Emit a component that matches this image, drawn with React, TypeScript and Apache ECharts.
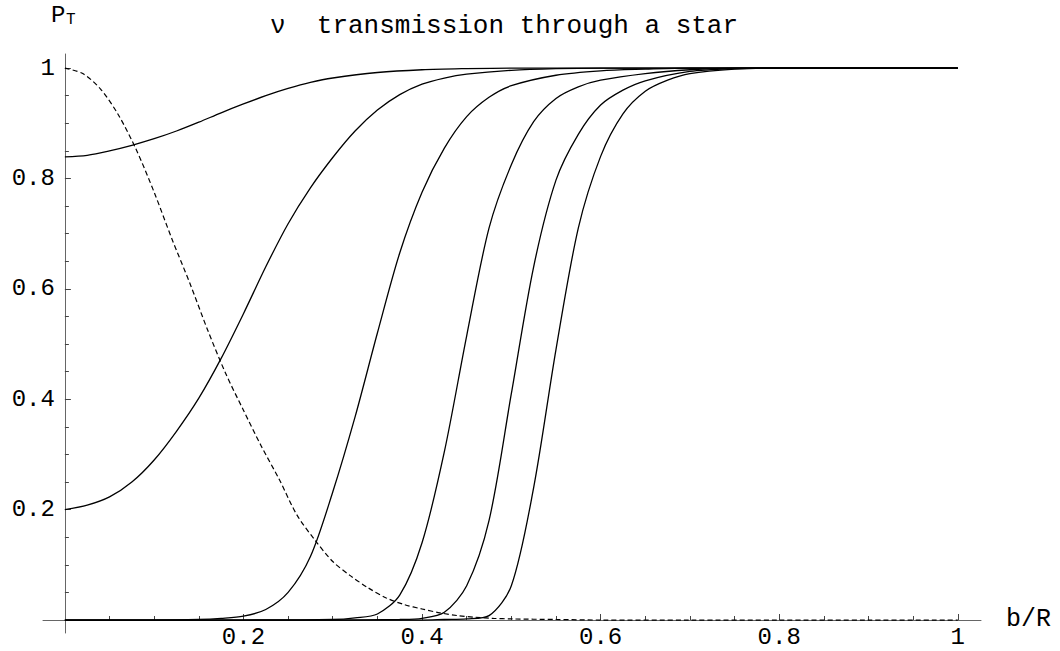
import React, { useEffect, useRef } from "react";
import * as echarts from "echarts";

// ---- data ----
const dashX = [0, 0.02, 0.04, 0.06, 0.08, 0.1, 0.12, 0.14, 0.16, 0.18, 0.2, 0.22, 0.24, 0.26, 0.28, 0.3, 0.32, 0.34, 0.36, 0.38, 0.4, 0.42, 0.44, 0.46, 0.48, 0.5, 0.55, 0.6, 0.7, 0.8, 0.9, 1];
const dashY = [1, 0.99, 0.962, 0.915, 0.852, 0.775, 0.69, 0.61, 0.525, 0.447, 0.38, 0.315, 0.255, 0.19, 0.145, 0.106, 0.08, 0.058, 0.04, 0.028, 0.02, 0.013, 0.008, 0.005, 0.003, 0.002, 0.001, 0, 0, 0, 0, 0];

const c1X = [0, 0.025, 0.05, 0.075, 0.1, 0.125, 0.15, 0.175, 0.2, 0.225, 0.25, 0.275, 0.3, 0.35, 0.4, 0.45, 0.5, 0.6, 0.8, 1];
const c1Y = [0.839, 0.842, 0.85, 0.86, 0.872, 0.886, 0.902, 0.919, 0.935, 0.95, 0.963, 0.974, 0.982, 0.992, 0.997, 0.999, 1, 1, 1, 1];

const c2X = [0, 0.025, 0.05, 0.075, 0.1, 0.125, 0.15, 0.175, 0.2, 0.225, 0.25, 0.275, 0.3, 0.325, 0.35, 0.375, 0.4, 0.425, 0.45, 0.5, 0.55, 0.6, 0.8, 1];
const c2Y = [0.2, 0.208, 0.223, 0.25, 0.29, 0.342, 0.402, 0.474, 0.555, 0.64, 0.718, 0.783, 0.838, 0.886, 0.924, 0.952, 0.971, 0.982, 0.989, 0.996, 0.999, 1, 1, 1];

const c3X = [0, 0.1, 0.15, 0.175, 0.2, 0.225, 0.25, 0.275, 0.3, 0.325, 0.35, 0.375, 0.4, 0.425, 0.45, 0.475, 0.5, 0.55, 0.6, 0.65, 0.7, 0.8, 1];
const c3Y = [0, 0, 0.001, 0.003, 0.007, 0.019, 0.05, 0.115, 0.232, 0.368, 0.52, 0.665, 0.775, 0.855, 0.912, 0.947, 0.968, 0.987, 0.995, 0.998, 1, 1, 1];

const c4X = [0, 0.2, 0.3, 0.325, 0.35, 0.375, 0.4, 0.425, 0.45, 0.475, 0.5, 0.525, 0.55, 0.575, 0.6, 0.65, 0.7, 0.75, 0.8, 1];
const c4Y = [0, 0, 0.001, 0.004, 0.011, 0.045, 0.14, 0.305, 0.515, 0.71, 0.825, 0.903, 0.945, 0.966, 0.978, 0.99, 0.997, 1, 1, 1];

const c5X = [0, 0.3, 0.375, 0.4, 0.425, 0.45, 0.475, 0.5, 0.525, 0.55, 0.575, 0.6, 0.625, 0.65, 0.7, 0.75, 0.8, 1];
const c5Y = [0, 0, 0.001, 0.003, 0.014, 0.062, 0.18, 0.41, 0.64, 0.797, 0.88, 0.933, 0.96, 0.977, 0.994, 0.999, 1, 1];

const c6X = [0, 0.4, 0.425, 0.45, 0.475, 0.5, 0.525, 0.55, 0.575, 0.6, 0.625, 0.65, 0.675, 0.7, 0.75, 0.8, 0.85, 1];
const c6Y = [0, 0, 0.001, 0.002, 0.008, 0.062, 0.24, 0.49, 0.71, 0.84, 0.917, 0.958, 0.978, 0.99, 0.998, 1, 1, 1];

const xMajor = [0.2, 0.4, 0.6, 0.8, 1];
const xMinor = [0.05, 0.1, 0.15, 0.25, 0.3, 0.35, 0.45, 0.5, 0.55, 0.65, 0.7, 0.75, 0.85, 0.9, 0.95];
const yMajor = [0.2, 0.4, 0.6, 0.8, 1];
const yMinor = [0.05, 0.1, 0.15, 0.25, 0.3, 0.35, 0.45, 0.5, 0.55, 0.65, 0.7, 0.75, 0.85, 0.9, 0.95];

const titleText = "\u03bd  transmission through a star";
const yName = "P";
const ySub = "T";
const xName = "b/R";

const FONT = '"Liberation Mono", "DejaVu Sans Mono", monospace';

const zip = (xs: number[], ys: number[]) => xs.map((x, i) => [x, ys[i]]);

const X_MIN = -0.0245;
const X_MAX = 1.026;
const Y_MIN = -0.0235;
const Y_MAX = 1.0255;

const W = 1060;
const H = 651;
const GRID = { left: 43, right: 79, top: 54, bottom: 18 };

function buildOption() {
  const gridW = W - GRID.left - GRID.right;
  const gridH = H - GRID.top - GRID.bottom;
  // shift axes from the grid edge to the zero position of the other axis
  const yAxisOffset = -((0 - X_MIN) / (X_MAX - X_MIN)) * gridW;
  const xAxisOffset = -((0 - Y_MIN) / (Y_MAX - Y_MIN)) * gridH;

  const solid = [
    [c1X, c1Y],
    [c2X, c2Y],
    [c3X, c3Y],
    [c4X, c4Y],
    [c5X, c5Y],
    [c6X, c6Y],
  ];
  const series: any[] = solid.map(([xs, ys], i) => ({
    type: "line",
    name: "c" + (i + 1),
    data: zip(xs, ys),
    xAxisIndex: 0,
    yAxisIndex: 0,
    symbol: "none",
    smooth: 0.3,
    lineStyle: { color: "#000", width: 1.3 },
    silent: true,
    z: 3,
  }));
  series.push({
    type: "line",
    name: "dashed",
    data: zip(dashX, dashY),
    xAxisIndex: 0,
    yAxisIndex: 0,
    symbol: "none",
    smooth: 0.3,
    lineStyle: { color: "#000", width: 1.2, type: [5, 3] },
    silent: true,
    z: 3,
  });

  const labelStyle = { fontFamily: FONT, fontSize: 24, color: "#000" };
  const fmt = (v: number) => String(Math.round(v * 100) / 100);

  return {
    animation: false,
    backgroundColor: "#fff",
    grid: { ...GRID, containLabel: false, outerBoundsMode: "none" },
    xAxis: [
      {
        type: "value",
        min: X_MIN,
        max: X_MAX,
        position: "bottom",
        offset: xAxisOffset,
        axisLine: { show: true, onZero: false, lineStyle: { color: "#666", width: 1 } },
        axisTick: { show: true, inside: true, length: 6, customValues: xMajor, lineStyle: { color: "#444", width: 1 } },
        axisLabel: { show: true, customValues: xMajor, formatter: fmt, margin: 6, hideOverlap: false, lineHeight: 22, ...labelStyle },
        splitLine: { show: false },
      },
      {
        type: "value",
        min: X_MIN,
        max: X_MAX,
        position: "bottom",
        offset: xAxisOffset,
        axisLine: { show: false, onZero: false },
        axisTick: { show: true, inside: true, length: 4, customValues: xMinor, lineStyle: { color: "#444", width: 1 } },
        axisLabel: { show: false },
        splitLine: { show: false },
      },
    ],
    yAxis: [
      {
        type: "value",
        min: Y_MIN,
        max: Y_MAX,
        position: "left",
        offset: yAxisOffset,
        axisLine: { show: true, onZero: false, lineStyle: { color: "#666", width: 1 } },
        axisTick: { show: true, inside: true, length: 6, customValues: yMajor, lineStyle: { color: "#444", width: 1 } },
        axisLabel: { show: true, customValues: yMajor, formatter: fmt, margin: 10, hideOverlap: false, ...labelStyle },
        splitLine: { show: false },
      },
      {
        type: "value",
        min: Y_MIN,
        max: Y_MAX,
        position: "left",
        offset: yAxisOffset,
        axisLine: { show: false, onZero: false },
        axisTick: { show: true, inside: true, length: 4, customValues: yMinor, lineStyle: { color: "#444", width: 1 } },
        axisLabel: { show: false },
        splitLine: { show: false },
      },
    ],
    graphic: [
      {
        type: "text",
        x: 270,
        y: 26,
        style: { text: titleText, font: `26px ${FONT}`, fill: "#000", align: "left", verticalAlign: "middle", textAlign: "left", textVerticalAlign: "middle" },
      },
      {
        type: "text",
        x: 51,
        y: 15,
        style: { text: yName, font: `24px ${FONT}`, fill: "#000", align: "left", verticalAlign: "middle", textAlign: "left", textVerticalAlign: "middle" },
      },
      {
        type: "text",
        x: 66,
        y: 20,
        style: { text: ySub, font: `16px ${FONT}`, fill: "#000", align: "left", verticalAlign: "middle", textAlign: "left", textVerticalAlign: "middle" },
      },
      {
        type: "text",
        x: 1006,
        y: 619,
        style: { text: xName, font: `25px ${FONT}`, fill: "#000", align: "left", verticalAlign: "middle", textAlign: "left", textVerticalAlign: "middle" },
      },
    ],
    series,
  };
}

export default function App() {
  const ref = useRef<HTMLDivElement>(null);
  useEffect(() => {
    if (!ref.current) return;
    const chart = echarts.init(ref.current, null, { renderer: "svg", width: W, height: H });
    chart.setOption(buildOption() as any);
    return () => chart.dispose();
  }, []);
  return (
    <div
      ref={ref}
      style={{ position: "absolute", left: 0, top: 0, width: W, height: H, background: "#fff" }}
    />
  );
}
